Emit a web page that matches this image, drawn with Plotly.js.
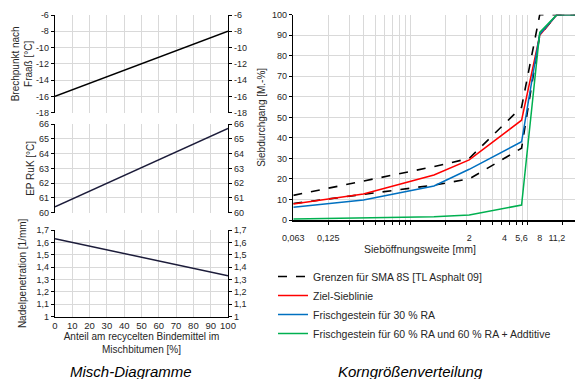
<!DOCTYPE html>
<html>
<head>
<meta charset="utf-8">
<script src="https://cdn.plot.ly/plotly-3.0.1.min.js"></script>
<style>html,body{margin:0;padding:0;background:#fff;}#chart{width:575px;height:379px;}</style>
</head>
<body>
<div id="chart"></div>
<script>
// ---------- data ----------
const mixShare = [0, 100];                       // Anteil am recycelten Bindemittel [%]
const breakPoint = [-16, -8];                    // Brechpunkt nach Fraaß [°C]
const softeningPoint = [60.4, 65.7];             // EP RuK [°C]
const needlePen = [1.63, 1.33];                  // Nadelpenetration [1/mm]
const breakTickVals = [-18, -16, -14, -12, -10, -8, -6];
const breakTickText = ['-18', '-16', '-14', '-12', '-10', '-8', '-6'];

const limitSieves = [0.063, 1, 2, 5.6, 8, 11.2, 16];
const upperLimit = [12, 26, 30, 55, 100, 100, 100];
const lowerLimit = [8, 17, 20, 35, 90, 100, 100];
const sieves = [0.063, 0.25, 1, 2, 5.6, 8, 11.2, 16];
const targetLine = [7.8, 12.7, 21.9, 29.3, 48.6, 90, 100, 100];
const fresh30 = [6.2, 9.7, 16.6, 24.7, 38.1, 90.5, 100, 100];
const fresh60 = [0.5, 1.1, 1.6, 2.4, 7.3, 91.4, 100, 100];
const sieveTickVals = [0.063, 0.125, 2, 4, 5.6, 8, 11.2];
const sieveTickText = ['0,063', '0,125', '2', '4', '5,6', '8', '11,2'];
const sieveGridVals = [0.126, 0.189, 0.252, 0.315, 0.378, 0.441, 0.504, 0.567, 0.63,
  1.26, 1.89, 2.52, 3.15, 3.78, 4.41, 5.04, 5.67, 6.3, 12.6];

// ---------- layout helpers ----------
const W = 575, H = 379;
const fx = p => p / W;
const fy = p => 1 - p / H;
const FONT = 'Liberation Sans, Arial, sans-serif';
const TXT = '#262626';
const GRID = '#d9d9d9';

const leftX = [fx(55), fx(228)];
const panels = [[15, 112.7], [124, 212.7], [230, 316.7]];

function leftXAxis(i, showLabels) {
  return {
    domain: leftX, anchor: i === 1 ? 'y' : 'y' + i, range: [0, 100], dtick: 10,
    showgrid: true, gridcolor: GRID, gridwidth: 1, zeroline: false,
    showline: showLabels, linecolor: '#000', linewidth: 1.3,
    showticklabels: showLabels, ticks: '', tickfont: {family: FONT, size: 9.5, color: TXT},
    fixedrange: true
  };
}
function leftYAxis(i, range, dtick, extra) {
  return Object.assign({
    domain: [fy(panels[i - 1][1]), fy(panels[i - 1][0])],
    anchor: i === 1 ? 'x' : 'x' + i, range: range, dtick: dtick,
    showgrid: true, gridcolor: GRID, zeroline: false,
    showline: true, linecolor: '#000', linewidth: 1.3,
    ticks: 'outside', ticklen: 3, tickcolor: '#000',
    tickfont: {family: FONT, size: 9, color: TXT}, fixedrange: true
  }, extra || {});
}
function rightYAxis(i, range, dtick, extra) {
  const base = leftYAxis(i, range, dtick, extra);
  base.overlaying = i === 1 ? 'y' : 'y' + i;
  base.side = 'right';
  base.showgrid = false;
  delete base.title;
  delete base.domain;
  return base;
}

const traces = [
  {x: mixShare, y: breakPoint, xaxis: 'x', yaxis: 'y', mode: 'lines', line: {color: '#000', width: 1.5}, showlegend: false},
  {x: mixShare, y: softeningPoint, xaxis: 'x2', yaxis: 'y2', mode: 'lines', line: {color: '#1c1c3a', width: 1.5}, showlegend: false},
  {x: mixShare, y: needlePen, xaxis: 'x3', yaxis: 'y3', mode: 'lines', line: {color: '#1c1c3a', width: 1.5}, showlegend: false},
  // same series bound to the right-hand (secondary) value axes so those axes are drawn; invisible
  {x: mixShare, y: breakPoint, xaxis: 'x', yaxis: 'y4', mode: 'lines', opacity: 0, line: {width: 0}, showlegend: false, hoverinfo: 'skip'},
  {x: mixShare, y: softeningPoint, xaxis: 'x2', yaxis: 'y5', mode: 'lines', opacity: 0, line: {width: 0}, showlegend: false, hoverinfo: 'skip'},
  {x: mixShare, y: needlePen, xaxis: 'x3', yaxis: 'y6', mode: 'lines', opacity: 0, line: {width: 0}, showlegend: false, hoverinfo: 'skip'},
  {x: limitSieves, y: upperLimit, xaxis: 'x4', yaxis: 'y7', mode: 'lines', name: 'Grenzen für SMA 8S [TL Asphalt 09]',
    legendgroup: 'lim', line: {color: '#000', width: 1.6, dash: 'dash'}},
  {x: limitSieves, y: lowerLimit, xaxis: 'x4', yaxis: 'y7', mode: 'lines', name: 'Grenzen für SMA 8S [TL Asphalt 09]',
    legendgroup: 'lim', showlegend: false, line: {color: '#000', width: 1.6, dash: 'dash'}},
  {x: sieves, y: targetLine, xaxis: 'x4', yaxis: 'y7', mode: 'lines', name: 'Ziel-Sieblinie', line: {color: '#ff0000', width: 1.5}},
  {x: sieves, y: fresh30, xaxis: 'x4', yaxis: 'y7', mode: 'lines', name: 'Frischgestein für 30 % RA', line: {color: '#0070c0', width: 1.5}},
  {x: sieves, y: fresh60, xaxis: 'x4', yaxis: 'y7', mode: 'lines', name: 'Frischgestein für 60 % RA und 60 % RA + Addtitive', line: {color: '#00b050', width: 1.5}}
];

const breakExtra = {tickvals: breakTickVals, ticktext: breakTickText};
const layout = {
  width: W, height: H, margin: {l: 0, r: 0, t: 0, b: 0},
  paper_bgcolor: '#fff', plot_bgcolor: 'rgba(0,0,0,0)',
  separators: ', ', showlegend: true,
  font: {family: FONT, color: TXT, size: 10},
  xaxis: leftXAxis(1, false),
  xaxis2: leftXAxis(2, false),
  xaxis3: Object.assign(leftXAxis(3, true), {
    title: {text: 'Anteil am recycelten Bindemittel im<br>Mischbitumen [%]', standoff: 2, font: {family: FONT, size: 10, color: TXT}}
  }),
  yaxis: leftYAxis(1, [-18, -6], 2, Object.assign({title: {text: 'Brechpunkt nach<br>Fraaß [°C]', standoff: 1, font: {family: FONT, size: 10, color: TXT}}}, breakExtra)),
  yaxis2: leftYAxis(2, [60, 66], 1, {title: {text: 'EP RuK [°C]', standoff: 2, font: {family: FONT, size: 10, color: TXT}}}),
  yaxis3: leftYAxis(3, [1, 1.7], 0.1, {title: {text: 'Nadelpenetration [1/mm]', standoff: 8, font: {family: FONT, size: 10, color: TXT}}}),
  yaxis4: rightYAxis(1, [-18, -6], 2, breakExtra),
  yaxis5: rightYAxis(2, [60, 66], 1),
  yaxis6: rightYAxis(3, [1, 1.7], 0.1),
  xaxis4: {
    domain: [fx(293.3), 1], anchor: 'y7', type: 'log', range: [Math.log10(0.063), Math.log10(16)],
    tickmode: 'array', tickvals: sieveTickVals, ticktext: sieveTickText, ticks: '',
    ticklabelstandoff: 9, tickfont: {family: FONT, size: 9, color: TXT},
    showgrid: false, zeroline: false, showline: true, linecolor: '#000', linewidth: 1.5,
    minor: {tickmode: 'array', tickvals: sieveGridVals, showgrid: true, gridcolor: GRID, gridwidth: 1,
      ticks: 'outside', ticklen: 3, tickcolor: '#000'},
    fixedrange: true
  },
  yaxis7: {
    domain: [fy(220), fy(14.7)], anchor: 'x4', range: [0, 100], dtick: 10,
    showgrid: true, gridcolor: GRID, zeroline: false, showline: true, linecolor: '#000', linewidth: 1.5,
    ticks: 'outside', ticklen: 3, tickcolor: '#000', tickfont: {family: FONT, size: 9, color: TXT},
    title: {text: 'Siebdurchgang [M.-%]', standoff: 4, font: {family: FONT, size: 10, color: TXT}},
    fixedrange: true
  },
  legend: {
    x: fx(273), y: fy(262), xanchor: 'left', yanchor: 'top', bgcolor: 'rgba(0,0,0,0)',
    font: {family: FONT, size: 10.5, color: TXT}, tracegroupgap: 0
  },
  annotations: [
    {text: 'Sieböffnungsweite [mm]', xref: 'paper', yref: 'paper', x: fx(420), y: fy(249), xanchor: 'center', yanchor: 'middle',
      showarrow: false, font: {family: FONT, size: 10.5, color: TXT}},
    {text: '<i>Misch-Diagramme</i>', xref: 'paper', yref: 'paper', x: fx(131), y: fy(371), xanchor: 'center', yanchor: 'middle',
      showarrow: false, font: {family: FONT, size: 15, color: '#000'}},
    {text: '<i>Korngrößenverteilung</i>', xref: 'paper', yref: 'paper', x: fx(410), y: fy(371), xanchor: 'center', yanchor: 'middle',
      showarrow: false, font: {family: FONT, size: 15, color: '#000'}}
  ]
};

Plotly.newPlot('chart', traces, layout, {displayModeBar: false, staticPlot: true});
</script>
</body>
</html>
